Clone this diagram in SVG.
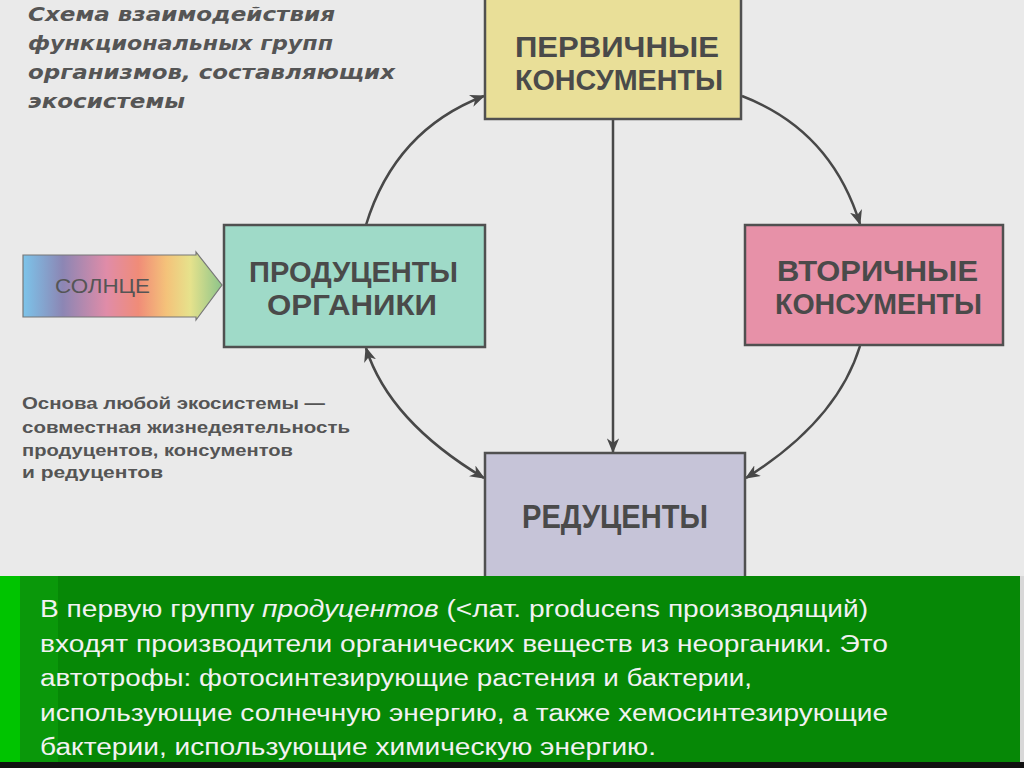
<svg xmlns="http://www.w3.org/2000/svg" width="1024" height="768" viewBox="0 0 1024 768">
<defs>
<style>
.box{stroke:#505050;stroke-width:2.5}
.lbl{font-family:"Liberation Sans",Arial,sans-serif;font-weight:bold;fill:#4a4a4a}
.ttl{font-family:"DejaVu Sans","Liberation Sans",sans-serif;font-weight:bold;font-style:italic;font-size:19px;fill:#555}
.cap{font-family:"Liberation Sans",Arial,sans-serif;font-weight:bold;font-size:16px;fill:#555}
.con{fill:none;stroke:#484848;stroke-width:2.5}
.note{font-family:"Liberation Sans",Arial,sans-serif;font-size:23px;fill:#f2f2f2}
</style>
<marker id="ah" viewBox="0 0 12 10" refX="11" refY="5" markerWidth="6" markerHeight="5" orient="auto-start-reverse" markerUnits="strokeWidth">
<path d="M0,0 L12,5 L0,10 L3.5,5 z" fill="#484848"/>
</marker>
<linearGradient id="sun" x1="0" y1="0" x2="1" y2="0">
<stop offset="0" stop-color="#7cc4ea"/>
<stop offset="0.2" stop-color="#8c86b4"/>
<stop offset="0.42" stop-color="#e08ca8"/>
<stop offset="0.58" stop-color="#f08c78"/>
<stop offset="0.72" stop-color="#f4c27a"/>
<stop offset="0.84" stop-color="#e6e28c"/>
<stop offset="1" stop-color="#8cc48a"/>
</linearGradient>
</defs>
<rect x="0" y="0" width="1024" height="768" fill="#eaeaea"/>

<g id="title">
<text class="ttl" x="28" y="21" textLength="307" lengthAdjust="spacingAndGlyphs">Схема  взаимодействия</text>
<text class="ttl" x="28" y="50" textLength="305" lengthAdjust="spacingAndGlyphs">функциональных  групп</text>
<text class="ttl" x="28" y="79" textLength="367" lengthAdjust="spacingAndGlyphs">организмов, составляющих</text>
<text class="ttl" x="28" y="108" textLength="157" lengthAdjust="spacingAndGlyphs">экосистемы</text>
</g>

<g id="caption">
<text class="cap" x="22" y="409" textLength="303" lengthAdjust="spacingAndGlyphs">Основа  любой экосистемы —</text>
<text class="cap" x="22" y="433" textLength="328" lengthAdjust="spacingAndGlyphs">совместная  жизнедеятельность</text>
<text class="cap" x="22" y="456" textLength="271" lengthAdjust="spacingAndGlyphs">продуцентов,  консументов</text>
<text class="cap" x="22" y="478" textLength="141" lengthAdjust="spacingAndGlyphs">и  редуцентов</text>
</g>

<g id="connectors">
<path class="con" d="M366,225 Q395,130 484,96" marker-end="url(#ah)"/>
<path class="con" d="M742,96 Q831,130 860,224" marker-end="url(#ah)"/>
<path class="con" d="M860,346 Q837,421 746,478" marker-end="url(#ah)"/>
<path class="con" d="M366,348 Q389,421 484,478" marker-start="url(#ah)" marker-end="url(#ah)"/>
<path class="con" d="M613,120 L613,452" marker-end="url(#ah)"/>
</g>

<g id="sun">
<path d="M23,255 L196,255 L196,252 L222,285 L196,320 L196,317 L23,317 z" fill="url(#sun)" stroke="#777" stroke-width="1.2"/>
<text x="55" y="293" font-family="Liberation Sans,Arial,sans-serif" font-size="20" fill="#555" textLength="95" lengthAdjust="spacingAndGlyphs">СОЛНЦЕ</text>
</g>

<g id="primary">
<rect class="box" x="485" y="-2" width="256" height="121" fill="#e9df98"/>
<text class="lbl" x="515" y="57" font-size="29" textLength="204" lengthAdjust="spacingAndGlyphs">ПЕРВИЧНЫЕ</text>
<text class="lbl" x="515" y="90" font-size="29" textLength="208" lengthAdjust="spacingAndGlyphs">КОНСУМЕНТЫ</text>
</g>

<g id="secondary">
<rect class="box" x="745" y="225" width="258" height="120" fill="#e791a8"/>
<text class="lbl" x="777" y="281" font-size="29" textLength="201" lengthAdjust="spacingAndGlyphs">ВТОРИЧНЫЕ</text>
<text class="lbl" x="775" y="314" font-size="29" textLength="207" lengthAdjust="spacingAndGlyphs">КОНСУМЕНТЫ</text>
</g>

<g id="producers">
<rect class="box" x="224" y="225" width="261" height="122" fill="#9fdac8"/>
<text class="lbl" x="249" y="282" font-size="29" textLength="209" lengthAdjust="spacingAndGlyphs">ПРОДУЦЕНТЫ</text>
<text class="lbl" x="267" y="315" font-size="29" textLength="170" lengthAdjust="spacingAndGlyphs">ОРГАНИКИ</text>
</g>

<g id="reducers">
<rect class="box" x="485" y="453" width="260" height="126" fill="#c6c4d8"/>
<text class="lbl" x="522" y="528" font-size="33" textLength="186" lengthAdjust="spacingAndGlyphs">РЕДУЦЕНТЫ</text>
</g>

<g id="note">
<rect x="0" y="576" width="1024" height="192" fill="#068806"/>
<rect x="0" y="576" width="20" height="186" fill="#00c400"/>
<rect x="20" y="576" width="38" height="186" fill="#0a980a"/>
<rect x="1020" y="576" width="4" height="186" fill="#d8d8d8"/>
<rect x="0" y="762" width="1024" height="6" fill="#111"/>
<text class="note" x="40" y="617" textLength="828" lengthAdjust="spacingAndGlyphs">В первую группу <tspan font-style="italic">продуцентов</tspan> (&lt;лат. producens производящий)</text>
<text class="note" x="40" y="652" textLength="848" lengthAdjust="spacingAndGlyphs">входят производители органических веществ из неорганики. Это</text>
<text class="note" x="40" y="686" textLength="712" lengthAdjust="spacingAndGlyphs">автотрофы: фотосинтезирующие растения и бактерии,</text>
<text class="note" x="40" y="721" textLength="848" lengthAdjust="spacingAndGlyphs">использующие солнечную энергию, а также хемосинтезирующие</text>
<text class="note" x="40" y="755" textLength="616" lengthAdjust="spacingAndGlyphs">бактерии, использующие химическую энергию.</text>
</g>
</svg>
